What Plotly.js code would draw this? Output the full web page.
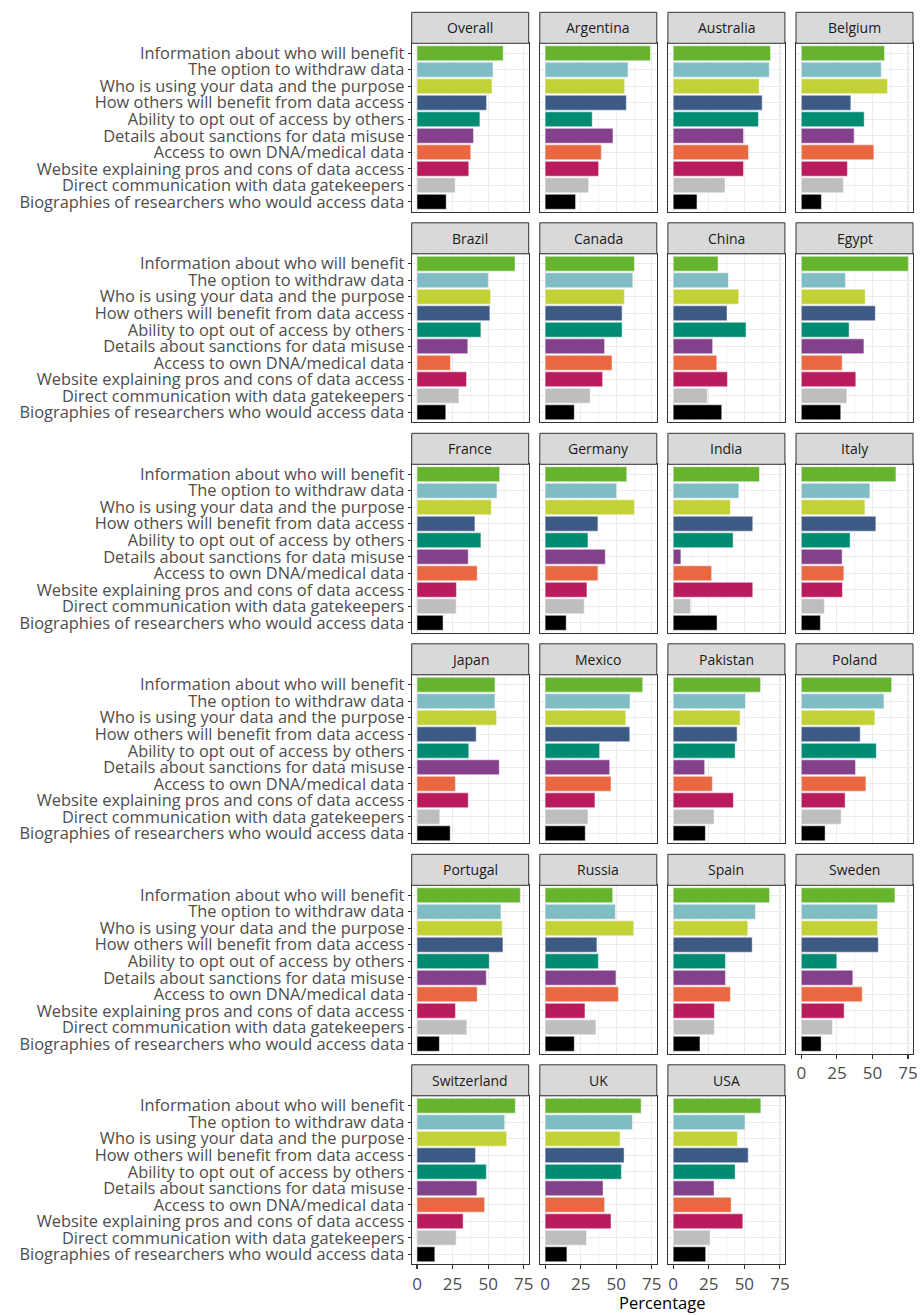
<!DOCTYPE html>
<html><head><meta charset="utf-8">
<script src="https://cdn.plot.ly/plotly-3.0.1.min.js"></script>
<style>html,body{margin:0;padding:0;background:#fff}</style>
</head><body><div id="chart" style="width:920px;height:1315px"></div>
<script>
const categories = [
  "Information about who will benefit",
  "The option to withdraw data",
  "Who is using your data and the purpose",
  "How others will benefit from data access",
  "Ability to opt out of access by others",
  "Details about sanctions for data misuse",
  "Access to own DNA/medical data",
  "Website explaining pros and cons of data access",
  "Direct communication with data gatekeepers",
  "Biographies of researchers who would access data"
];
const barColors = ["#66B32E","#7FBDC4","#C2D236","#3D5A85","#008C72","#83418C","#E96841","#B91B5C","#BEBEBE","#000000"];
const countries = ["Overall","Argentina","Australia","Belgium","Brazil","Canada","China","Egypt","France","Germany","India","Italy","Japan","Mexico","Pakistan","Poland","Portugal","Russia","Spain","Sweden","Switzerland","UK","USA"];

const overall     = [60.6,53.4,52.7,48.9,44.2,39.7,37.8,36.4,26.8,20.5];
const argentina   = [74.0,58.3,55.9,57.1,33.1,47.7,39.5,37.6,30.6,21.4];
const australia   = [68.4,67.5,60.4,62.5,59.9,49.4,52.9,49.4,36.4,16.7];
const belgium     = [58.5,56.2,60.6,34.8,44.2,37.1,51.0,32.4,29.6,14.1];
const brazil      = [68.9,50.1,51.7,51.2,44.9,35.7,23.5,34.8,29.4,20.2];
const canada      = [62.8,61.6,55.7,54.1,54.1,41.8,47.0,40.4,31.7,20.5];
const china       = [31.5,38.8,46.1,37.8,51.2,27.7,30.6,38.1,24.0,34.1];
const egypt       = [75.2,31.0,44.9,52.0,33.6,44.0,28.7,38.3,32.0,27.7];
const france      = [58.1,56.2,52.2,40.7,44.9,36.0,42.3,27.7,27.5,18.3];
const germany     = [57.4,50.3,62.8,37.1,30.1,42.3,37.1,29.4,27.5,14.8];
const india       = [60.6,46.1,40.2,55.9,42.1,5.4,27.0,55.9,12.2,30.8];
const italy       = [66.5,48.2,44.7,52.4,34.3,28.7,29.9,28.9,16.2,13.4];
const japan       = [54.8,54.8,55.9,41.6,36.4,57.8,27.0,36.0,16.0,23.3];
const mexico      = [68.6,59.7,56.7,59.5,38.3,45.4,46.3,35.0,30.1,28.2];
const pakistan    = [61.4,50.8,47.0,44.9,43.5,22.1,27.5,42.3,28.7,22.6];
const poland      = [63.5,58.1,51.7,41.4,52.7,38.1,45.4,30.8,28.0,16.7];
const portugal    = [72.6,59.0,59.9,60.4,50.8,48.7,42.3,27.0,35.0,15.7];
const russia      = [47.5,49.4,62.3,36.4,37.4,49.8,51.5,28.0,35.7,20.5];
const spain       = [67.7,57.8,52.4,55.5,36.7,36.7,40.2,28.9,28.9,18.8];
const sweden      = [65.8,53.6,53.6,54.1,24.9,36.2,42.8,30.1,21.9,13.9];
const switzerland = [69.1,61.6,63.0,41.1,48.7,42.1,47.5,32.4,27.5,12.5];
const uk          = [67.5,61.4,52.7,55.5,53.6,40.7,41.8,46.3,29.1,15.3];
const usa         = [61.6,50.5,45.1,52.7,43.5,28.7,40.7,48.9,25.9,22.8];

const xTicks = [0,25,50,75];
const xMinorTicks = [12.5,37.5,62.5];

const seriesValues = [overall,argentina,australia,belgium,brazil,canada,china,egypt,france,germany,india,italy,japan,mexico,pakistan,poland,portugal,russia,spain,sweden,switzerland,uk,usa];

const W = 920, H = 1315;
const colLeft = [411.7, 539.8, 667.9, 796.0];
const panelW = 117;
const rowTop0 = 12.3, rowStep = 210.5, stripH = 31, panelH = 168.4;
const FONT = "Open Sans, sans-serif";

const data = [];
const layout = {
  width: W, height: H,
  margin: {l:0, r:0, t:0, b:0},
  showlegend: false,
  paper_bgcolor: "#fff", plot_bgcolor: "#fff",
  font: {family: FONT, color: "#4D4D4D"},
  shapes: [], annotations: []
};

countries.forEach((name, i) => {
  const col = i % 4, row = Math.floor(i / 4);
  const n = i + 1;
  const xa = "xaxis" + (n === 1 ? "" : n), ya = "yaxis" + (n === 1 ? "" : n);
  const xr = "x" + (n === 1 ? "" : n), yr = "y" + (n === 1 ? "" : n);
  const L = colLeft[col], T = rowTop0 + rowStep * row;
  const pTop = T + stripH, pBot = pTop + panelH;
  const showX = (row === 5) || (row === 4 && col === 3);
  const showY = col === 0;

  data.push({
    type: "bar", orientation: "h",
    x: seriesValues[i], y: categories,
    xaxis: xr, yaxis: yr,
    width: 0.9,
    marker: {color: barColors, line: {color: "rgba(255,255,255,0.6)", width: 0.8}},
    hoverinfo: "x+y"
  });

  layout[xa] = {
    domain: [L / W, (L + panelW) / W],
    anchor: yr,
    range: [-3.74, 78.5],
    tickmode: "array", tickvals: xTicks, ticktext: xTicks.map(String),
    showticklabels: showX,
    ticks: showX ? "outside" : "", ticklen: 4, tickwidth: 1.1, tickcolor: "#333333",
    tickfont: {family: FONT, size: 17, color: "#4D4D4D"},
    showgrid: true, gridcolor: "#EBEBEB", gridwidth: 1.2,
    minor: {tickmode: "array", tickvals: xMinorTicks, showgrid: true, gridcolor: "#EBEBEB", gridwidth: 0.6, ticks: ""},
    showline: true, mirror: true, linecolor: "#333333", linewidth: 1,
    zeroline: false, fixedrange: true
  };
  layout[ya] = {
    domain: [1 - pBot / H, 1 - pTop / H],
    anchor: xr,
    type: "category", categoryorder: "array", categoryarray: categories.slice().reverse(),
    tickmode: "array", tickvals: categories, ticktext: categories,
    range: [-0.6, 9.6],
    showticklabels: showY,
    ticks: showY ? "outside" : "", ticklen: 3, tickwidth: 1.1, tickcolor: "#333333",
    tickfont: {family: FONT, size: 16.4, color: "#4D4D4D"},
    showgrid: true, gridcolor: "#EBEBEB", gridwidth: 1.2,
    showline: true, mirror: true, linecolor: "#333333", linewidth: 1,
    zeroline: false, fixedrange: true
  };

  layout.shapes.push({
    type: "rect", xref: "paper", yref: "paper",
    x0: L / W, x1: (L + panelW) / W, y0: 1 - pTop / H, y1: 1 - T / H,
    fillcolor: "#D9D9D9", line: {color: "#333333", width: 1}
  });
  layout.annotations.push({
    text: name, xref: "paper", yref: "paper",
    x: (L + panelW / 2) / W, y: 1 - (T + stripH / 2) / H,
    xanchor: "center", yanchor: "middle", showarrow: false,
    font: {family: FONT, size: 14, color: "#1A1A1A"}
  });
});

layout.annotations.push({
  text: "Percentage", xref: "paper", yref: "paper",
  x: ((colLeft[0] + colLeft[3] + panelW) / 2) / W, y: 1 - 1302.5 / H,
  xanchor: "center", yanchor: "middle", showarrow: false,
  font: {family: FONT, size: 16.5, color: "#000000"}
});

Plotly.newPlot("chart", data, layout, {staticPlot: true, displayModeBar: false});
</script>
</body></html>
